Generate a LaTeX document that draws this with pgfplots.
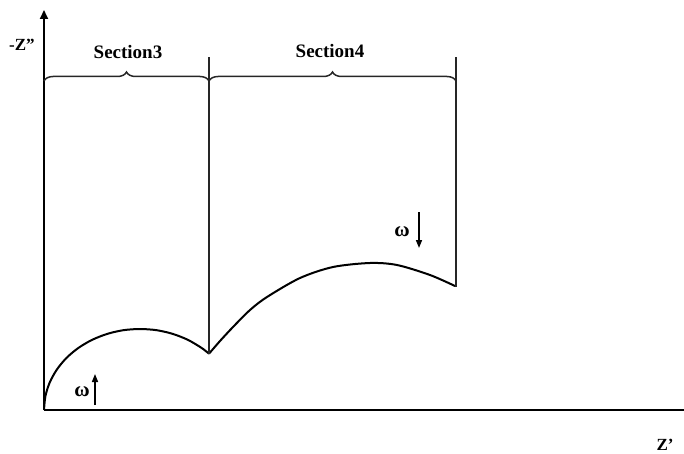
\documentclass[border=0pt]{standalone}
\usepackage{fontspec}
\setmainfont{Liberation Serif}
\usepackage{pgfplots}
\pgfplotsset{compat=1.18}
\usetikzlibrary{decorations.pathreplacing,arrows.meta}
\begin{document}
\begin{tikzpicture}
\begin{axis}[scale only axis, width=640pt, height=400pt,
  xmin=0, xmax=640, ymin=0, ymax=400,
  axis lines=left,
  axis line style={line width=2pt, black},
  x axis line style={-},
  y axis line style={-{Triangle[length=9pt,width=8pt]}},
  xtick=\empty, ytick=\empty, clip=false]
% first arc (section 3)
\addplot[black, line width=2pt, smooth] coordinates {
(0,0) (1.46,14.07) (5.79,27.7) (12.9,40.5) (22.5,52.1) (34.3,62.0) (48.0,70.1)
(63.2,76.1) (79.3,79.8) (96,81) (112.7,79.8) (128.8,76.1) (144,70.1) (157.7,62.0) (165,56.3)};
% second arc (section 4)
\addplot[black, line width=2pt, smooth] coordinates {
(165,56.3) (176,69) (189,83) (206,100) (223,113) (256,132) (289,143) (326,147)
(353,145) (386,135) (411,124)};
% vertical separators
\addplot[black!85, line width=1.6pt] coordinates {(165,56) (165,353)};
\addplot[black!85, line width=1.6pt] coordinates {(412,123) (412,353)};
% omega arrows
\addplot[black, line width=1.5pt, -{Triangle[length=8pt,width=6pt]}] coordinates {(51,5) (51,36)};
\addplot[black, line width=1.5pt, -{Triangle[length=8pt,width=6pt]}] coordinates {(375,198) (375,162)};
% braces
\draw[black!85, decorate, decoration={brace, amplitude=9pt}, line width=1.5pt] (axis cs:0,329) -- (axis cs:165,329);
\draw[black!85, decorate, decoration={brace, amplitude=9pt}, line width=1.5pt] (axis cs:165,329) -- (axis cs:412,329);
% labels
\node at (axis cs:84,358) {\fontsize{19}{22}\selectfont\bfseries Section3};
\node at (axis cs:286,359) {\fontsize{19}{22}\selectfont\bfseries Section4};
\node at (axis cs:-22,365) {\fontsize{17}{20}\selectfont\bfseries -Z''};
\node at (axis cs:621,-35) {\fontsize{17}{20}\selectfont\bfseries Z'};
\node at (axis cs:38,18) {\fontsize{21}{24}\selectfont\bfseries ω};
\node at (axis cs:358,178) {\fontsize{21}{24}\selectfont\bfseries ω};
\end{axis}
\pgfresetboundingbox
\path[use as bounding box] (-44pt,-43pt) rectangle (640pt,410pt);
\end{tikzpicture}
\end{document}
